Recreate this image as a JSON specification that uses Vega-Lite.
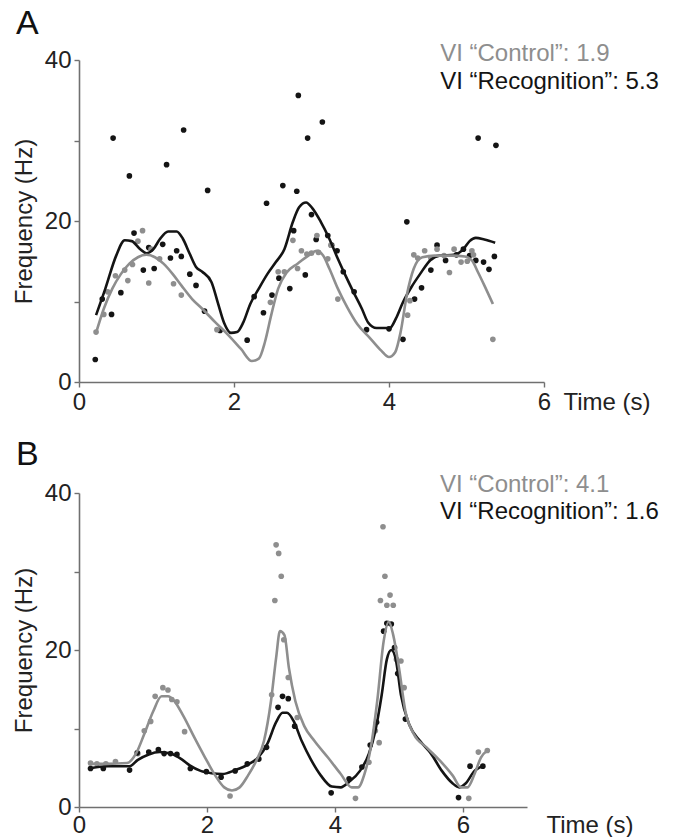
{
  "$schema": "https://vega.github.io/schema/vega-lite/v6.json",
  "background": "white",
  "padding": {"left": 12, "top": 6, "right": 0, "bottom": 0},
  "bounds": "flush",
  "spacing": 111,
  "config": {
    "font": "Liberation Sans",
    "view": {"stroke": null},
    "axis": {"grid": false, "domainColor": "#707070", "domainWidth": 1.6, "tickColor": "#707070", "tickWidth": 1.4, "tickSize": 5, "labelFontSize": 24, "labelColor": "#222222", "labelPadding": 3, "titleFontSize": 24, "titleFontWeight": "normal", "titleColor": "#222222", "labelFlush": false, "labelOverlap": false},
    "title": {"fontSize": 34, "fontWeight": "normal", "color": "#111111", "anchor": "start", "frame": "group"}
  },
  "datasets": {
    "a_pts": [
      {"t":0.21,"f":2.8,"g":"Recognition"},{"t":0.44,"f":30.3,"g":"Recognition"},{"t":0.65,"f":25.6,"g":"Recognition"},{"t":0.30,"f":10.3,"g":"Recognition"},{"t":0.42,"f":8.4,"g":"Recognition"},{"t":0.54,"f":11.1,"g":"Recognition"},{"t":0.71,"f":18.5,"g":"Recognition"},{"t":0.90,"f":16.7,"g":"Recognition"},{"t":0.83,"f":13.9,"g":"Recognition"},{"t":0.97,"f":14.1,"g":"Recognition"},{"t":1.08,"f":17.1,"g":"Recognition"},{"t":1.13,"f":27.0,"g":"Recognition"},{"t":1.18,"f":15.4,"g":"Recognition"},{"t":1.26,"f":16.3,"g":"Recognition"},{"t":1.32,"f":15.6,"g":"Recognition"},{"t":1.35,"f":31.3,"g":"Recognition"},{"t":1.43,"f":13.4,"g":"Recognition"},{"t":1.51,"f":12.0,"g":"Recognition"},{"t":1.62,"f":8.8,"g":"Recognition"},{"t":1.66,"f":23.8,"g":"Recognition"},{"t":1.82,"f":6.4,"g":"Recognition"},{"t":2.17,"f":5.2,"g":"Recognition"},{"t":2.26,"f":10.6,"g":"Recognition"},{"t":2.38,"f":8.6,"g":"Recognition"},{"t":2.42,"f":22.2,"g":"Recognition"},{"t":2.49,"f":10.8,"g":"Recognition"},{"t":2.58,"f":12.9,"g":"Recognition"},{"t":2.63,"f":24.4,"g":"Recognition"},{"t":2.72,"f":11.6,"g":"Recognition"},{"t":2.77,"f":18.8,"g":"Recognition"},{"t":2.81,"f":23.7,"g":"Recognition"},{"t":2.83,"f":35.6,"g":"Recognition"},{"t":2.92,"f":13.3,"g":"Recognition"},{"t":2.95,"f":30.3,"g":"Recognition"},{"t":3.00,"f":20.8,"g":"Recognition"},{"t":3.06,"f":17.7,"g":"Recognition"},{"t":3.14,"f":32.3,"g":"Recognition"},{"t":3.21,"f":18.2,"g":"Recognition"},{"t":3.26,"f":17.0,"g":"Recognition"},{"t":3.33,"f":16.3,"g":"Recognition"},{"t":3.41,"f":13.7,"g":"Recognition"},{"t":3.55,"f":11.2,"g":"Recognition"},{"t":3.71,"f":6.5,"g":"Recognition"},{"t":4.00,"f":6.6,"g":"Recognition"},{"t":4.18,"f":5.3,"g":"Recognition"},{"t":4.23,"f":19.9,"g":"Recognition"},{"t":4.33,"f":10.3,"g":"Recognition"},{"t":4.42,"f":11.7,"g":"Recognition"},{"t":4.54,"f":13.9,"g":"Recognition"},{"t":4.62,"f":17.0,"g":"Recognition"},{"t":4.73,"f":15.1,"g":"Recognition"},{"t":4.87,"f":15.8,"g":"Recognition"},{"t":4.96,"f":16.5,"g":"Recognition"},{"t":5.04,"f":15.7,"g":"Recognition"},{"t":5.12,"f":15.1,"g":"Recognition"},{"t":5.15,"f":30.3,"g":"Recognition"},{"t":5.22,"f":14.9,"g":"Recognition"},{"t":5.29,"f":14.0,"g":"Recognition"},{"t":5.36,"f":15.6,"g":"Recognition"},{"t":5.38,"f":29.4,"g":"Recognition"},
      {"t":0.22,"f":6.2,"g":"Control"},{"t":0.32,"f":8.4,"g":"Control"},{"t":0.37,"f":11.2,"g":"Control"},{"t":0.47,"f":13.2,"g":"Control"},{"t":0.59,"f":13.9,"g":"Control"},{"t":0.63,"f":12.6,"g":"Control"},{"t":0.69,"f":14.6,"g":"Control"},{"t":0.76,"f":17.5,"g":"Control"},{"t":0.82,"f":18.8,"g":"Control"},{"t":0.90,"f":12.3,"g":"Control"},{"t":0.93,"f":16.5,"g":"Control"},{"t":1.04,"f":15.3,"g":"Control"},{"t":1.22,"f":12.2,"g":"Control"},{"t":1.32,"f":10.8,"g":"Control"},{"t":1.78,"f":6.5,"g":"Control"},{"t":2.47,"f":9.9,"g":"Control"},{"t":2.57,"f":13.7,"g":"Control"},{"t":2.65,"f":13.7,"g":"Control"},{"t":2.76,"f":17.6,"g":"Control"},{"t":2.82,"f":14.1,"g":"Control"},{"t":2.87,"f":16.3,"g":"Control"},{"t":2.94,"f":15.9,"g":"Control"},{"t":3.00,"f":16.0,"g":"Control"},{"t":3.07,"f":18.2,"g":"Control"},{"t":3.09,"f":16.1,"g":"Control"},{"t":3.21,"f":15.3,"g":"Control"},{"t":3.25,"f":17.0,"g":"Control"},{"t":3.34,"f":10.3,"g":"Control"},{"t":4.24,"f":8.3,"g":"Control"},{"t":4.27,"f":10.1,"g":"Control"},{"t":4.32,"f":15.8,"g":"Control"},{"t":4.37,"f":15.4,"g":"Control"},{"t":4.46,"f":16.3,"g":"Control"},{"t":4.54,"f":15.4,"g":"Control"},{"t":4.62,"f":16.5,"g":"Control"},{"t":4.71,"f":15.7,"g":"Control"},{"t":4.78,"f":13.6,"g":"Control"},{"t":4.84,"f":16.5,"g":"Control"},{"t":4.93,"f":14.9,"g":"Control"},{"t":5.01,"f":15.0,"g":"Control"},{"t":5.07,"f":16.3,"g":"Control"},{"t":5.09,"f":15.8,"g":"Control"},{"t":5.34,"f":5.3,"g":"Control"}
    ],
    "a_line": [
      {"t":0.22,"f":8.3,"g":"Recognition"},{"t":0.34,"f":11.6,"g":"Recognition"},{"t":0.48,"f":15.7,"g":"Recognition"},{"t":0.59,"f":17.6,"g":"Recognition"},{"t":0.68,"f":17.5,"g":"Recognition"},{"t":0.79,"f":16.5,"g":"Recognition"},{"t":0.87,"f":16.0,"g":"Recognition"},{"t":0.96,"f":16.5,"g":"Recognition"},{"t":1.04,"f":17.7,"g":"Recognition"},{"t":1.15,"f":18.7,"g":"Recognition"},{"t":1.26,"f":18.7,"g":"Recognition"},{"t":1.34,"f":17.8,"g":"Recognition"},{"t":1.43,"f":15.9,"g":"Recognition"},{"t":1.51,"f":14.3,"g":"Recognition"},{"t":1.59,"f":13.7,"g":"Recognition"},{"t":1.71,"f":12.4,"g":"Recognition"},{"t":1.79,"f":9.9,"g":"Recognition"},{"t":1.87,"f":7.4,"g":"Recognition"},{"t":1.96,"f":6.1,"g":"Recognition"},{"t":2.04,"f":6.2,"g":"Recognition"},{"t":2.12,"f":7.4,"g":"Recognition"},{"t":2.21,"f":9.7,"g":"Recognition"},{"t":2.32,"f":11.6,"g":"Recognition"},{"t":2.43,"f":13.4,"g":"Recognition"},{"t":2.54,"f":14.9,"g":"Recognition"},{"t":2.65,"f":16.5,"g":"Recognition"},{"t":2.76,"f":19.9,"g":"Recognition"},{"t":2.84,"f":21.7,"g":"Recognition"},{"t":2.93,"f":22.3,"g":"Recognition"},{"t":3.01,"f":21.6,"g":"Recognition"},{"t":3.12,"f":19.9,"g":"Recognition"},{"t":3.23,"f":17.8,"g":"Recognition"},{"t":3.34,"f":15.3,"g":"Recognition"},{"t":3.43,"f":13.4,"g":"Recognition"},{"t":3.54,"f":11.2,"g":"Recognition"},{"t":3.65,"f":9.1,"g":"Recognition"},{"t":3.73,"f":7.4,"g":"Recognition"},{"t":3.84,"f":6.7,"g":"Recognition"},{"t":4.01,"f":6.7,"g":"Recognition"},{"t":4.09,"f":7.9,"g":"Recognition"},{"t":4.18,"f":9.9,"g":"Recognition"},{"t":4.29,"f":11.8,"g":"Recognition"},{"t":4.40,"f":13.4,"g":"Recognition"},{"t":4.54,"f":15.2,"g":"Recognition"},{"t":4.65,"f":15.7,"g":"Recognition"},{"t":4.84,"f":15.8,"g":"Recognition"},{"t":4.96,"f":16.5,"g":"Recognition"},{"t":5.04,"f":17.5,"g":"Recognition"},{"t":5.12,"f":17.9,"g":"Recognition"},{"t":5.23,"f":17.7,"g":"Recognition"},{"t":5.37,"f":17.3,"g":"Recognition"},
      {"t":0.22,"f":6.1,"g":"Control"},{"t":0.32,"f":9.1,"g":"Control"},{"t":0.43,"f":11.6,"g":"Control"},{"t":0.54,"f":13.4,"g":"Control"},{"t":0.65,"f":14.7,"g":"Control"},{"t":0.76,"f":15.5,"g":"Control"},{"t":0.87,"f":15.8,"g":"Control"},{"t":0.98,"f":15.5,"g":"Control"},{"t":1.09,"f":14.7,"g":"Control"},{"t":1.21,"f":13.4,"g":"Control"},{"t":1.32,"f":12.0,"g":"Control"},{"t":1.46,"f":10.3,"g":"Control"},{"t":1.59,"f":9.1,"g":"Control"},{"t":1.76,"f":7.4,"g":"Control"},{"t":1.93,"f":5.8,"g":"Control"},{"t":2.09,"f":4.1,"g":"Control"},{"t":2.23,"f":2.6,"g":"Control"},{"t":2.32,"f":2.9,"g":"Control"},{"t":2.40,"f":5.0,"g":"Control"},{"t":2.48,"f":8.3,"g":"Control"},{"t":2.57,"f":11.6,"g":"Control"},{"t":2.68,"f":13.6,"g":"Control"},{"t":2.82,"f":14.7,"g":"Control"},{"t":2.96,"f":15.7,"g":"Control"},{"t":3.07,"f":16.3,"g":"Control"},{"t":3.15,"f":15.7,"g":"Control"},{"t":3.23,"f":14.1,"g":"Control"},{"t":3.34,"f":11.6,"g":"Control"},{"t":3.46,"f":9.3,"g":"Control"},{"t":3.59,"f":7.2,"g":"Control"},{"t":3.76,"f":5.4,"g":"Control"},{"t":3.90,"f":3.9,"g":"Control"},{"t":4.00,"f":3.1,"g":"Control"},{"t":4.08,"f":3.7,"g":"Control"},{"t":4.15,"f":6.2,"g":"Control"},{"t":4.23,"f":10.8,"g":"Control"},{"t":4.32,"f":14.1,"g":"Control"},{"t":4.43,"f":15.5,"g":"Control"},{"t":4.59,"f":15.7,"g":"Control"},{"t":4.82,"f":15.7,"g":"Control"},{"t":4.98,"f":15.6,"g":"Control"},{"t":5.07,"f":15.1,"g":"Control"},{"t":5.15,"f":13.6,"g":"Control"},{"t":5.23,"f":12.0,"g":"Control"},{"t":5.34,"f":9.7,"g":"Control"}
    ],
    "b_pts": [
      {"t":0.18,"f":5.6,"g":"Control"},{"t":0.28,"f":5.5,"g":"Control"},{"t":0.42,"f":5.5,"g":"Control"},{"t":0.57,"f":5.8,"g":"Control"},{"t":0.92,"f":6.8,"g":"Control"},{"t":1.02,"f":9.7,"g":"Control"},{"t":1.12,"f":10.9,"g":"Control"},{"t":1.19,"f":14.1,"g":"Control"},{"t":1.31,"f":15.2,"g":"Control"},{"t":1.39,"f":14.9,"g":"Control"},{"t":1.45,"f":13.7,"g":"Control"},{"t":1.53,"f":13.4,"g":"Control"},{"t":1.65,"f":9.6,"g":"Control"},{"t":2.36,"f":1.4,"g":"Control"},{"t":3.01,"f":14.3,"g":"Control"},{"t":3.08,"f":33.4,"g":"Control"},{"t":3.12,"f":32.3,"g":"Control"},{"t":3.06,"f":26.3,"g":"Control"},{"t":3.16,"f":29.4,"g":"Control"},{"t":3.20,"f":21.3,"g":"Control"},{"t":3.27,"f":16.5,"g":"Control"},{"t":3.41,"f":11.4,"g":"Control"},{"t":4.32,"f":1.1,"g":"Control"},{"t":4.53,"f":5.7,"g":"Control"},{"t":4.63,"f":9.7,"g":"Control"},{"t":4.69,"f":8.2,"g":"Control"},{"t":4.71,"f":26.3,"g":"Control"},{"t":4.75,"f":35.7,"g":"Control"},{"t":4.78,"f":29.4,"g":"Control"},{"t":4.81,"f":25.7,"g":"Control"},{"t":4.86,"f":27.0,"g":"Control"},{"t":4.91,"f":25.7,"g":"Control"},{"t":4.96,"f":18.8,"g":"Control"},{"t":5.03,"f":18.6,"g":"Control"},{"t":5.08,"f":15.2,"g":"Control"},{"t":6.09,"f":1.1,"g":"Control"},{"t":6.24,"f":7.0,"g":"Control"},{"t":6.38,"f":7.2,"g":"Control"},
      {"t":0.18,"f":4.9,"g":"Recognition"},{"t":0.38,"f":4.9,"g":"Recognition"},{"t":0.79,"f":4.7,"g":"Recognition"},{"t":0.91,"f":6.9,"g":"Recognition"},{"t":1.09,"f":7.0,"g":"Recognition"},{"t":1.24,"f":7.3,"g":"Recognition"},{"t":1.33,"f":6.8,"g":"Recognition"},{"t":1.43,"f":6.8,"g":"Recognition"},{"t":1.53,"f":6.7,"g":"Recognition"},{"t":1.74,"f":4.9,"g":"Recognition"},{"t":1.99,"f":4.5,"g":"Recognition"},{"t":2.22,"f":3.8,"g":"Recognition"},{"t":2.44,"f":4.6,"g":"Recognition"},{"t":2.63,"f":5.5,"g":"Recognition"},{"t":2.81,"f":6.1,"g":"Recognition"},{"t":2.93,"f":7.6,"g":"Recognition"},{"t":3.11,"f":12.7,"g":"Recognition"},{"t":3.18,"f":14.1,"g":"Recognition"},{"t":3.27,"f":13.8,"g":"Recognition"},{"t":3.37,"f":10.3,"g":"Recognition"},{"t":3.94,"f":1.8,"g":"Recognition"},{"t":4.22,"f":3.6,"g":"Recognition"},{"t":4.42,"f":5.1,"g":"Recognition"},{"t":4.55,"f":7.9,"g":"Recognition"},{"t":4.65,"f":10.8,"g":"Recognition"},{"t":4.76,"f":22.4,"g":"Recognition"},{"t":4.81,"f":23.4,"g":"Recognition"},{"t":4.88,"f":23.3,"g":"Recognition"},{"t":4.93,"f":20.3,"g":"Recognition"},{"t":4.98,"f":17.0,"g":"Recognition"},{"t":5.10,"f":11.2,"g":"Recognition"},{"t":5.93,"f":1.2,"g":"Recognition"},{"t":6.11,"f":5.2,"g":"Recognition"},{"t":6.31,"f":5.2,"g":"Recognition"}
    ],
    "b_line": [
      {"t":0.15,"f":4.9,"g":"Recognition"},{"t":0.45,"f":5.2,"g":"Recognition"},{"t":0.79,"f":5.2,"g":"Recognition"},{"t":0.92,"f":6.0,"g":"Recognition"},{"t":1.09,"f":6.7,"g":"Recognition"},{"t":1.26,"f":7.0,"g":"Recognition"},{"t":1.43,"f":6.8,"g":"Recognition"},{"t":1.60,"f":6.1,"g":"Recognition"},{"t":1.73,"f":5.3,"g":"Recognition"},{"t":1.90,"f":4.6,"g":"Recognition"},{"t":2.07,"f":4.3,"g":"Recognition"},{"t":2.24,"f":4.2,"g":"Recognition"},{"t":2.44,"f":4.7,"g":"Recognition"},{"t":2.64,"f":5.4,"g":"Recognition"},{"t":2.81,"f":6.4,"g":"Recognition"},{"t":2.94,"f":8.0,"g":"Recognition"},{"t":3.08,"f":10.8,"g":"Recognition"},{"t":3.18,"f":12.0,"g":"Recognition"},{"t":3.25,"f":12.0,"g":"Recognition"},{"t":3.35,"f":11.0,"g":"Recognition"},{"t":3.48,"f":8.4,"g":"Recognition"},{"t":3.62,"f":6.1,"g":"Recognition"},{"t":3.78,"f":4.0,"g":"Recognition"},{"t":3.95,"f":2.6,"g":"Recognition"},{"t":4.09,"f":2.5,"g":"Recognition"},{"t":4.22,"f":3.2,"g":"Recognition"},{"t":4.39,"f":4.6,"g":"Recognition"},{"t":4.53,"f":6.8,"g":"Recognition"},{"t":4.63,"f":9.7,"g":"Recognition"},{"t":4.73,"f":14.3,"g":"Recognition"},{"t":4.81,"f":18.8,"g":"Recognition"},{"t":4.88,"f":20.0,"g":"Recognition"},{"t":4.95,"f":18.8,"g":"Recognition"},{"t":5.03,"f":14.3,"g":"Recognition"},{"t":5.16,"f":10.5,"g":"Recognition"},{"t":5.33,"f":8.4,"g":"Recognition"},{"t":5.50,"f":6.8,"g":"Recognition"},{"t":5.67,"f":4.6,"g":"Recognition"},{"t":5.84,"f":3.0,"g":"Recognition"},{"t":5.94,"f":2.5,"g":"Recognition"},{"t":6.04,"f":3.0,"g":"Recognition"},{"t":6.18,"f":4.6,"g":"Recognition"},{"t":6.34,"f":5.3,"g":"Recognition"},
      {"t":0.15,"f":5.5,"g":"Control"},{"t":0.45,"f":5.5,"g":"Control"},{"t":0.75,"f":5.6,"g":"Control"},{"t":0.89,"f":6.8,"g":"Control"},{"t":1.02,"f":9.3,"g":"Control"},{"t":1.16,"f":12.2,"g":"Control"},{"t":1.29,"f":14.1,"g":"Control"},{"t":1.39,"f":14.1,"g":"Control"},{"t":1.49,"f":13.5,"g":"Control"},{"t":1.63,"f":11.6,"g":"Control"},{"t":1.80,"f":8.9,"g":"Control"},{"t":1.97,"f":6.3,"g":"Control"},{"t":2.13,"f":4.0,"g":"Control"},{"t":2.27,"f":2.5,"g":"Control"},{"t":2.39,"f":2.1,"g":"Control"},{"t":2.51,"f":2.5,"g":"Control"},{"t":2.64,"f":4.0,"g":"Control"},{"t":2.77,"f":5.9,"g":"Control"},{"t":2.89,"f":8.4,"g":"Control"},{"t":3.00,"f":13.5,"g":"Control"},{"t":3.08,"f":19.0,"g":"Control"},{"t":3.14,"f":22.4,"g":"Control"},{"t":3.21,"f":21.9,"g":"Control"},{"t":3.28,"f":17.7,"g":"Control"},{"t":3.38,"f":13.5,"g":"Control"},{"t":3.52,"f":10.3,"g":"Control"},{"t":3.68,"f":8.4,"g":"Control"},{"t":3.89,"f":6.3,"g":"Control"},{"t":4.09,"f":4.2,"g":"Control"},{"t":4.26,"f":2.5,"g":"Control"},{"t":4.36,"f":2.5,"g":"Control"},{"t":4.46,"f":4.2,"g":"Control"},{"t":4.56,"f":7.6,"g":"Control"},{"t":4.66,"f":13.5,"g":"Control"},{"t":4.76,"f":21.1,"g":"Control"},{"t":4.84,"f":23.6,"g":"Control"},{"t":4.91,"f":21.9,"g":"Control"},{"t":5.00,"f":17.7,"g":"Control"},{"t":5.10,"f":12.2,"g":"Control"},{"t":5.23,"f":9.3,"g":"Control"},{"t":5.43,"f":7.6,"g":"Control"},{"t":5.64,"f":5.9,"g":"Control"},{"t":5.84,"f":4.0,"g":"Control"},{"t":5.97,"f":2.5,"g":"Control"},{"t":6.07,"f":2.5,"g":"Control"},{"t":6.18,"f":4.2,"g":"Control"},{"t":6.28,"f":6.3,"g":"Control"},{"t":6.38,"f":7.2,"g":"Control"}
    ]
  },
  "vconcat": [
    {
      "width": 465,
      "height": 322,
      "title": {"text": "A", "dx": -63, "offset": 1},
      "layer": [
        {
          "encoding": {
            "x": {"field": "t", "type": "quantitative", "scale": {"domain": [0, 6], "nice": false, "zero": false},
              "axis": {"values": [0, 2, 4, 6], "title": "Time (s)", "titleAlign": "left", "titleBaseline": "top", "titleAnchor": null, "titleX": 484, "titleY": 8}},
            "y": {"field": "f", "type": "quantitative", "scale": {"domain": [0, 40], "nice": false},
              "axis": {"values": [0, 10, 20, 30, 40], "labelExpr": "datum.value % 20 === 0 ? datum.label : ''", "title": "Frequency (Hz)", "titlePadding": 8}},
            "color": {"field": "g", "type": "nominal", "scale": {"domain": ["Control", "Recognition"], "range": ["#8e8e8e", "#141414"]}, "legend": null}
          },
          "layer": [
            {"data": {"name": "a_pts"}, "mark": {"type": "circle", "size": 32, "opacity": 1}},
            {"data": {"name": "a_line"}, "mark": {"type": "line", "interpolate": "monotone", "strokeWidth": 2.6}}
          ]
        },
        {"data": {"values": [{"label": "VI “Control”: 1.9", "g": "Control"}]}, "mark": {"type": "text", "align": "left", "baseline": "middle", "fontSize": 24},
          "encoding": {
            "x": {"datum": 4.66, "type": "quantitative", "scale": {"domain": [0, 6], "nice": false, "zero": false},
              "axis": {"values": [0, 2, 4, 6], "title": "Time (s)", "titleAlign": "left", "titleBaseline": "top", "titleAnchor": null, "titleX": 484, "titleY": 8}},
            "y": {"datum": 40.8, "type": "quantitative", "scale": {"domain": [0, 40], "nice": false},
              "axis": {"values": [0, 10, 20, 30, 40], "labelExpr": "datum.value % 20 === 0 ? datum.label : ''", "title": "Frequency (Hz)", "titlePadding": 8}},
            "text": {"field": "label"},
            "color": {"field": "g", "type": "nominal", "scale": {"domain": ["Control", "Recognition"], "range": ["#8e8e8e", "#141414"]}, "legend": null}}},
        {"data": {"values": [{"label": "VI “Recognition”: 5.3", "g": "Recognition"}]}, "mark": {"type": "text", "align": "left", "baseline": "middle", "fontSize": 24},
          "encoding": {
            "x": {"datum": 4.66, "type": "quantitative", "scale": {"domain": [0, 6], "nice": false, "zero": false},
              "axis": {"values": [0, 2, 4, 6], "title": "Time (s)", "titleAlign": "left", "titleBaseline": "top", "titleAnchor": null, "titleX": 484, "titleY": 8}},
            "y": {"datum": 37.3, "type": "quantitative", "scale": {"domain": [0, 40], "nice": false},
              "axis": {"values": [0, 10, 20, 30, 40], "labelExpr": "datum.value % 20 === 0 ? datum.label : ''", "title": "Frequency (Hz)", "titlePadding": 8}},
            "text": {"field": "label"},
            "color": {"field": "g", "type": "nominal", "scale": {"domain": ["Control", "Recognition"], "range": ["#8e8e8e", "#141414"]}, "legend": null}}}
      ]
    },
    {
      "width": 448,
      "height": 314,
      "title": {"text": "B", "dx": -63, "offset": 1},
      "layer": [
        {
          "encoding": {
            "x": {"field": "t", "type": "quantitative", "scale": {"domain": [0, 7], "nice": false, "zero": false},
              "axis": {"values": [0, 2, 4, 6], "title": "Time (s)", "titleAlign": "left", "titleBaseline": "top", "titleAnchor": null, "titleX": 467, "titleY": 6, "labelPadding": 1}},
            "y": {"field": "f", "type": "quantitative", "scale": {"domain": [0, 40], "nice": false},
              "axis": {"values": [0, 10, 20, 30, 40], "labelExpr": "datum.value % 20 === 0 ? datum.label : ''", "title": "Frequency (Hz)", "titlePadding": 8}},
            "color": {"field": "g", "type": "nominal", "scale": {"domain": ["Control", "Recognition"], "range": ["#8e8e8e", "#141414"]}, "legend": null}
          },
          "layer": [
            {"data": {"name": "b_pts"}, "mark": {"type": "circle", "size": 32, "opacity": 1}},
            {"data": {"name": "b_line"}, "mark": {"type": "line", "interpolate": "monotone", "strokeWidth": 2.6}}
          ]
        },
        {"data": {"values": [{"label": "VI “Control”: 4.1", "g": "Control"}]}, "mark": {"type": "text", "align": "left", "baseline": "middle", "fontSize": 24},
          "encoding": {
            "x": {"datum": 5.64, "type": "quantitative", "scale": {"domain": [0, 7], "nice": false, "zero": false},
              "axis": {"values": [0, 2, 4, 6], "title": "Time (s)", "titleAlign": "left", "titleBaseline": "top", "titleAnchor": null, "titleX": 467, "titleY": 6, "labelPadding": 1}},
            "y": {"datum": 41.0, "type": "quantitative", "scale": {"domain": [0, 40], "nice": false},
              "axis": {"values": [0, 10, 20, 30, 40], "labelExpr": "datum.value % 20 === 0 ? datum.label : ''", "title": "Frequency (Hz)", "titlePadding": 8}},
            "text": {"field": "label"},
            "color": {"field": "g", "type": "nominal", "scale": {"domain": ["Control", "Recognition"], "range": ["#8e8e8e", "#141414"]}, "legend": null}}},
        {"data": {"values": [{"label": "VI “Recognition”: 1.6", "g": "Recognition"}]}, "mark": {"type": "text", "align": "left", "baseline": "middle", "fontSize": 24},
          "encoding": {
            "x": {"datum": 5.64, "type": "quantitative", "scale": {"domain": [0, 7], "nice": false, "zero": false},
              "axis": {"values": [0, 2, 4, 6], "title": "Time (s)", "titleAlign": "left", "titleBaseline": "top", "titleAnchor": null, "titleX": 467, "titleY": 6, "labelPadding": 1}},
            "y": {"datum": 37.6, "type": "quantitative", "scale": {"domain": [0, 40], "nice": false},
              "axis": {"values": [0, 10, 20, 30, 40], "labelExpr": "datum.value % 20 === 0 ? datum.label : ''", "title": "Frequency (Hz)", "titlePadding": 8}},
            "text": {"field": "label"},
            "color": {"field": "g", "type": "nominal", "scale": {"domain": ["Control", "Recognition"], "range": ["#8e8e8e", "#141414"]}, "legend": null}}}
      ]
    }
  ]
}
